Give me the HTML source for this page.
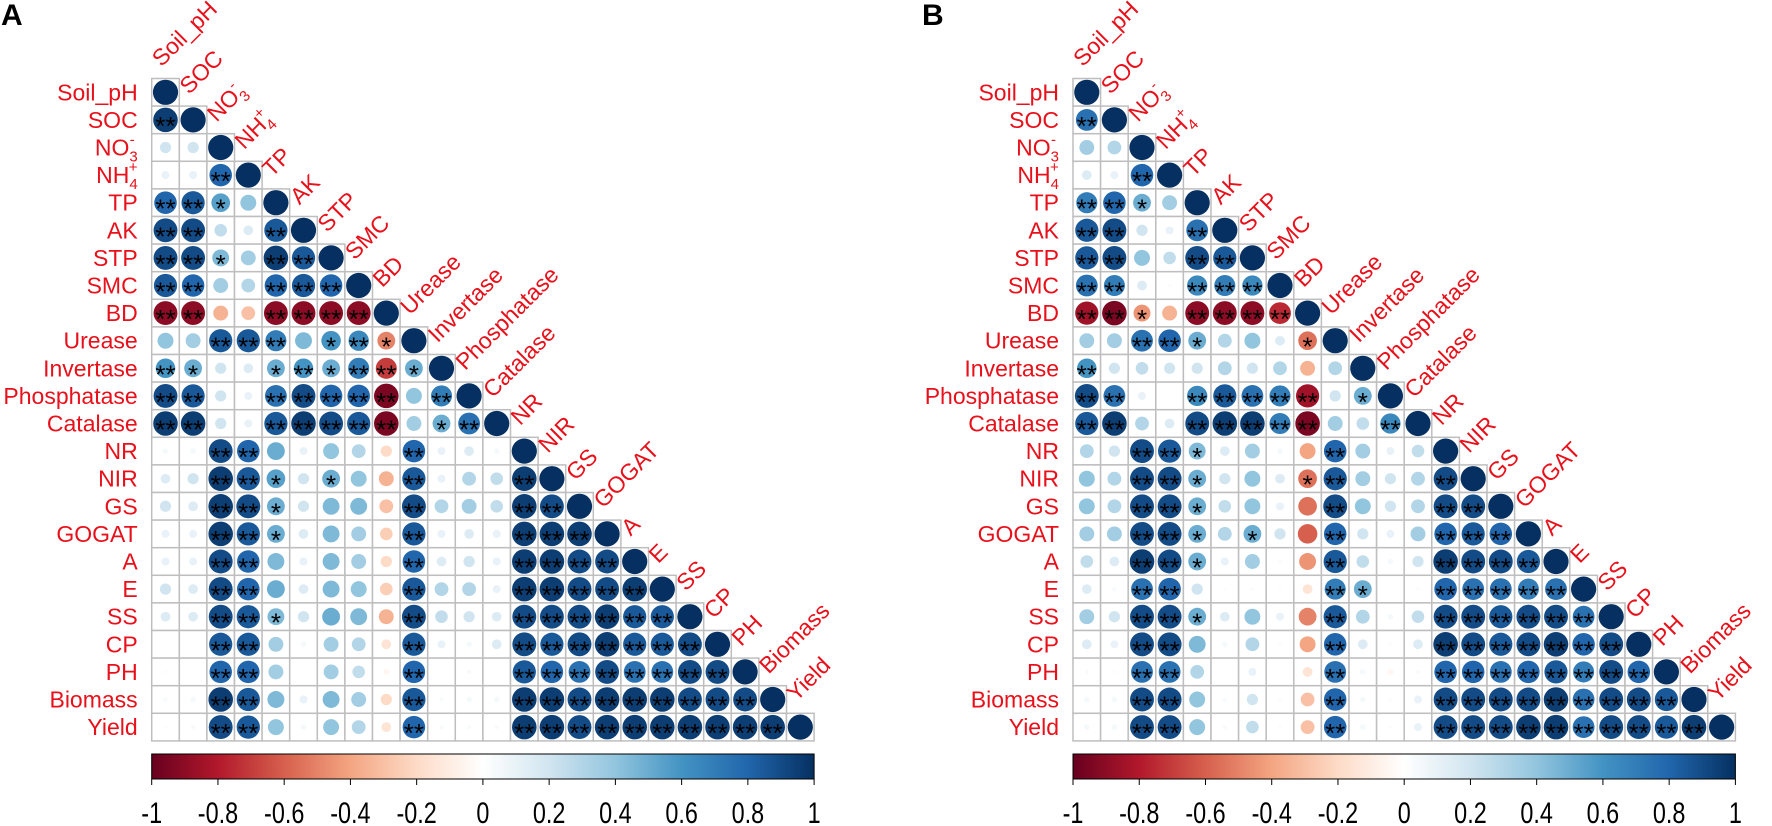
<!DOCTYPE html>
<html><head><meta charset="utf-8"><style>
html,body{margin:0;padding:0;background:#fff;}
svg{display:block;}
</style></head><body>
<svg id="chart" width="1772" height="826" viewBox="0 0 1772 826" xmlns="http://www.w3.org/2000/svg" font-family="'Liberation Sans', Arial, sans-serif">
<text x="1" y="25" font-size="30" font-weight="bold" fill="#000">A</text>
<text x="922" y="25" font-size="30" font-weight="bold" fill="#000">B</text>
</svg>
<script>
const variables = ["Soil_pH","SOC","NO3","NH4","TP","AK","STP","SMC","BD","Urease","Invertase","Phosphatase","Catalase","NR","NIR","GS","GOGAT","A","E","SS","CP","PH","Biomass","Yield"];
const colorbarTicks = [-1,-0.8,-0.6,-0.4,-0.2,0,0.2,0.4,0.6,0.8,1];

const corrA = [
 [],
 [0.95],
 [0.2,0.2],
 [0.1,0.1,0.8],
 [0.8,0.85,0.55,0.4],
 [0.9,0.9,0.25,0.15,0.85],
 [0.9,0.9,0.45,0.35,0.95,0.85],
 [0.85,0.8,0.35,0.3,0.8,0.85,0.8],
 [-0.9,-0.9,-0.35,-0.3,-0.9,-0.9,-0.9,-0.9],
 [0.4,0.35,0.85,0.85,0.7,0.45,0.6,0.65,-0.5],
 [0.6,0.5,0.2,0.15,0.5,0.6,0.5,0.7,-0.7,0.5],
 [0.9,0.85,0.2,0.1,0.75,0.9,0.8,0.8,-0.95,0.4,0.7],
 [0.95,0.95,0.2,0.1,0.85,0.95,0.9,0.85,-0.95,0.35,0.5,0.75],
 [0.05,0.05,0.9,0.8,0.5,0.1,0.4,0.3,-0.2,0.8,0.1,0.15,0.05],
 [0.15,0.2,0.95,0.85,0.55,0.2,0.5,0.4,-0.35,0.85,0.1,0.3,0.25,0.95],
 [0.2,0.15,0.95,0.9,0.5,0.2,0.45,0.45,-0.3,0.9,0.3,0.35,0.25,0.95,0.9],
 [0.1,0.1,0.95,0.85,0.5,0.15,0.45,0.35,-0.25,0.85,0.1,0.15,0.1,0.95,0.95,0.95],
 [0.1,0.1,0.9,0.8,0.45,0.1,0.45,0.35,-0.2,0.8,0.15,0.2,0.1,0.95,0.95,0.9,0.9],
 [0.2,0.15,0.9,0.8,0.5,0.15,0.45,0.4,-0.25,0.85,0.3,0.3,0.1,0.95,0.95,0.9,0.9,0.95],
 [0.15,0.15,0.9,0.85,0.45,0.2,0.5,0.45,-0.35,0.9,0.25,0.2,0.15,0.9,0.9,0.9,0.95,0.85,0.85],
 [0,0,0.85,0.85,0.35,0.05,0.35,0.3,-0.15,0.85,0.1,0.05,0.15,0.9,0.85,0.9,0.95,0.85,0.85,0.9],
 [0.02,0,0.8,0.8,0.35,0,0.35,0.25,-0.05,0.8,0,0.03,0,0.85,0.8,0.75,0.9,0.75,0.75,0.9,0.9],
 [0.03,0.05,0.95,0.85,0.45,0.1,0.45,0.35,-0.2,0.85,0.03,0.05,0.05,0.95,0.95,0.9,0.95,0.95,0.95,0.9,0.9,0.9],
 [0.02,0.03,0.9,0.85,0.4,0.05,0.4,0.3,-0.15,0.8,0.03,0.03,0.03,0.95,0.95,0.9,0.95,0.95,0.95,0.95,0.95,0.95,0.95]
];
const sigA = ["","2","00","002","2210","22002","221022","2200222","22002222","002220121","2100121221","22002222202","220022222012","0022000002000","00221010020002","002210000200022","0022100002000222","00220000020002222","002200000200022222","0022100002000222222","00220000020002222222","002200000200022222222","0022000002000222222222","00220000020002222222222"];

const corrB = [
 [],
 [0.75],
 [0.35,0.3],
 [0.15,0.1,0.8],
 [0.7,0.8,0.5,0.35],
 [0.85,0.9,0.2,0.1,0.75],
 [0.85,0.9,0.4,0.25,0.9,0.85],
 [0.75,0.7,0.15,0.02,0.65,0.7,0.65],
 [-0.85,-0.95,-0.45,-0.35,-0.9,-0.9,-0.9,-0.75],
 [0.35,0.35,0.75,0.8,0.5,0.3,0.4,0.15,-0.55],
 [0.6,0.2,0.25,0.2,0.2,0.3,0.2,0.3,-0.35,0.3],
 [0.9,0.75,0.1,0,0.65,0.85,0.75,0.7,-0.85,0.2,0.5],
 [0.85,0.95,0.3,0.15,0.9,0.95,0.95,0.7,-0.95,0.35,0.25,0.65],
 [0.3,0.2,0.9,0.85,0.45,0.15,0.35,0.05,-0.4,0.8,0.35,0.1,0.25],
 [0.4,0.3,0.9,0.9,0.5,0.2,0.4,0.15,-0.55,0.85,0.35,0.2,0.3,0.9],
 [0.4,0.3,0.9,0.9,0.5,0.25,0.4,0.1,-0.55,0.9,0.4,0.2,0.3,0.9,0.9],
 [0.35,0.35,0.9,0.9,0.5,0.3,0.5,0.2,-0.6,0.8,0.2,0.1,0.35,0.8,0.85,0.8],
 [0.25,0.15,0.95,0.9,0.5,0.1,0.35,0.03,-0.45,0.85,0.25,0.05,0.2,0.95,0.9,0.9,0.85],
 [0.15,0.03,0.75,0.8,0.2,0.02,0.02,0.02,-0.15,0.7,0.5,0,0.02,0.8,0.75,0.75,0.7,0.75],
 [0.35,0.2,0.9,0.9,0.5,0.15,0.4,0.1,-0.5,0.85,0.3,0.05,0.25,0.9,0.9,0.85,0.9,0.9,0.75],
 [0.15,0.1,0.9,0.9,0.45,0.05,0.3,0.02,-0.4,0.8,0.15,0.02,0.15,0.95,0.9,0.85,0.9,0.95,0.8,0.9],
 [0.03,0.02,0.75,0.75,0.3,0,0.1,0.02,-0.15,0.75,0.05,-0.05,0.03,0.8,0.8,0.75,0.8,0.85,0.7,0.9,0.8],
 [0.05,0.05,0.9,0.9,0.4,0.03,0.2,0.02,-0.3,0.8,0.05,0.02,0.1,0.9,0.9,0.9,0.9,0.95,0.75,0.9,0.9,0.85],
 [0.05,0.05,0.9,0.9,0.4,0.03,0.25,0.02,-0.3,0.8,0.05,0.02,0.1,0.9,0.9,0.9,0.95,0.95,0.75,0.9,0.9,0.85,0.95]
];
const sigB = ["","2","00","002","2210","22002","220022","2200222","22102222","002210001","2000000000","22002222201","220022222002","0022100002000","00221000120002","002210000200022","0022101002000222","00221000020002222","002200000210022222","0022100002000222222","00220000020002222222","002200000200022222222","0022000002000222222222","00220000020002222222222"];

const NS = "http://www.w3.org/2000/svg";
const svg = document.getElementById("chart");
const stops = ["#67001F","#B2182B","#D6604D","#F4A582","#FDDBC7","#FFFFFF","#D1E5F0","#92C5DE","#4393C3","#2166AC","#053061"];
function hex(h){return [parseInt(h.slice(1,3),16),parseInt(h.slice(3,5),16),parseInt(h.slice(5,7),16)];}
function colorOf(v){
  const t=(Math.max(-1,Math.min(1,v))+1)/2*10;
  const i=Math.min(9,Math.floor(t)), f=t-i;
  const a=hex(stops[i]), b=hex(stops[i+1]);
  return "rgb("+a.map((c,k)=>Math.round(c+(b[k]-c)*f)).join(",")+")";
}
function mk(tag, attrs, parent){
  const e=document.createElementNS(NS,tag);
  for(const k in attrs) e.setAttribute(k,attrs[k]);
  (parent||svg).appendChild(e);
  return e;
}
const n = variables.length, cw = 27.6, ch = 27.6, y0 = 78.5;

function labelContent(t, name){
  if(name==="NO3"){
    t.appendChild(document.createTextNode("NO"));
    const s=mk("tspan",{dy:6,"font-size":15},t); s.textContent="3";
    const p=mk("tspan",{dx:-8,dy:-17,"font-size":15},t); p.textContent="-";
  } else if(name==="NH4"){
    t.appendChild(document.createTextNode("NH"));
    const s=mk("tspan",{dy:6,"font-size":15},t); s.textContent="4";
    const p=mk("tspan",{dx:-9,dy:-17,"font-size":15},t); p.textContent="+";
  } else t.textContent=name;
}

function drawPanel(x0, corr, sig, tag){
  const g=mk("g",{});
  
  
  const xs=j=>x0+(j+0.5)*cw, ys=i=>y0+(i+0.5)*ch;
  for(let i=0;i<n;i++){
    const rl=mk("text",{x:x0-14,y:ys(i)+8,"font-size":23,fill:"#E8101A","text-anchor":"end"},g);
    
    
    labelContent(rl, variables[i]);
    const ax=xs(i)-4, ay=y0+i*ch-11;
    const cl=mk("text",{x:ax,y:ay,"font-size":23,fill:"#E8101A",transform:"rotate(-45 "+ax+" "+ay+")"},g);
    
    
    labelContent(cl, variables[i]);
    for(let j=0;j<=i;j++){
      const v = j===i ? 1 : corr[i][j];
      const r = mk("rect",{x:x0+j*cw,y:y0+i*ch,width:cw,height:ch,fill:"#fff",stroke:"#BEBEBE","stroke-width":1.5},g);
      
      
      const rad = 12.6*Math.sqrt(Math.abs(v));
      if(rad>0.3){
        const c = mk("circle",{cx:xs(j),cy:ys(i),r:rad,fill:colorOf(v)},g);
        
        
      }
      if(j<i){
        const s = sig[i][j];
        if(s==="1"||s==="2"){
          const st = mk("text",{x:xs(j),y:ys(i)+15,"font-size":26,fill:"#000","text-anchor":"middle"},g);
          
          
          st.textContent = s==="2" ? "**" : "*";
        }
      }
    }
  }
  const W = n*cw, cy0 = 754, chh = 25;
  const gid = "grad"+tag;
  const defs = mk("defs",{},g);
  const lg = mk("linearGradient",{id:gid,x1:0,x2:1,y1:0,y2:0},defs);
  stops.forEach((c,k)=>mk("stop",{offset:(k/10),"stop-color":c},lg));
  const bar = mk("rect",{x:x0,y:cy0,width:W,height:chh,fill:"url(#"+gid+")",stroke:"#000","stroke-width":1},g);
  
  
  colorbarTicks.forEach(t=>{
    const tx = x0 + (t+1)/2*W;
    const tl = mk("line",{x1:tx,x2:tx,y1:cy0+chh,y2:cy0+chh+6,stroke:"#000","stroke-width":1},g);
    
    
    const lab = mk("text",{x:0,y:0,"font-size":30,fill:"#000","text-anchor":"middle",transform:"translate("+tx+" 823) scale(0.78 1)"},g);
    
    
    lab.textContent = String(t);
  });
}
drawPanel(151.7, corrA, sigA, "a");
drawPanel(1073, corrB, sigB, "b");
</script>
</body></html>
